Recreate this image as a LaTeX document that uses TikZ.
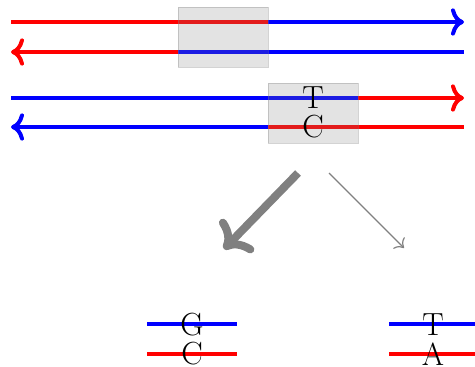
\documentclass[tikz,border=0pt]{standalone}
\usetikzlibrary{arrows.meta}
\begin{document}
\begin{tikzpicture}[x=1pt,y=-1pt,
  strand/.style={line width=4pt,>={Computer Modern Rightarrow[scale=1.25,round]}},
  hl/.style={fill=gray,fill opacity=0.22,draw=gray,draw opacity=0.35,line width=1pt},
  base/.style={inner sep=0pt,font=\fontsize{32}{32}\selectfont},
  bigarr/.style={draw=gray,line width=8pt,-{Computer Modern Rightarrow[scale=1.15,round]}},
  smallarr/.style={draw=gray,line width=1.2pt,-{Computer Modern Rightarrow[scale=1.8,round]}}]
\useasboundingbox (0,0) rectangle (475,367);
\clip (0,0) rectangle (475,367);
% pair 1
\draw[strand,red] (11,22) -- (268,22);
\draw[strand,blue,->] (268,22) -- (464,22);
\draw[strand,red,<-] (11,52) -- (178,52);
\draw[strand,blue] (178,52) -- (464,52);
\node[hl,minimum width=90pt,minimum height=60pt,inner sep=0pt] (box1) at (223,37) {};
% pair 2
\draw[strand,blue] (11,98) -- (358,98);
\draw[strand,red,->] (358,98) -- (464,98);
\draw[strand,blue,<-] (11,127) -- (268,127);
\draw[strand,red] (268,127) -- (464,127);
\node[hl,minimum width=90pt,minimum height=60pt,inner sep=0pt] (box2) at (313,113) {};
\node[base] (t1) at (313,98) {T};
\node[base] (c1) at (313,127) {C};
% arrows
\coordinate (a1s) at (298,173);
\coordinate (a1e) at (224,249);
\coordinate (a2s) at (329,173);
\coordinate (a2e) at (404,248);
\draw[bigarr] (a1s) -- (a1e);
\draw[smallarr] (a2s) -- (a2e);
% results
\draw[strand,blue] (147,324) -- (237,324);
\draw[strand,red] (147,354) -- (237,354);
\node[base] (g2) at (192,325) {G};
\node[base] (c2) at (192,354) {C};
\draw[strand,blue] (389,324) -- (479,324);
\draw[strand,red] (389,354) -- (479,354);
\node[base] (t3) at (433,325) {T};
\node[base] (a3) at (433,354) {A};
\end{tikzpicture}
\end{document}
